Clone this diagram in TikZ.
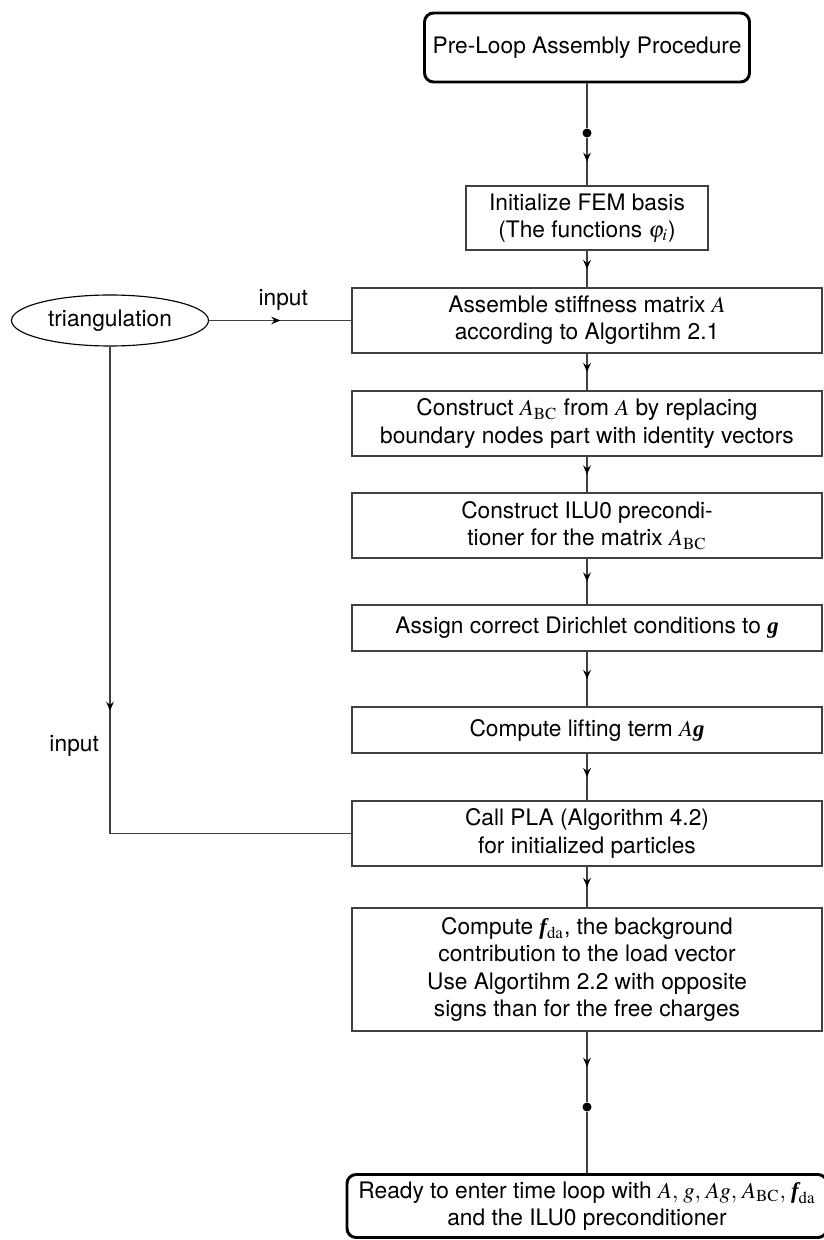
\documentclass[tikz,border=0pt]{standalone}
\usepackage{mathptmx}
\usepackage{amsmath}
\usepackage[no-math]{fontspec}
\setmainfont{TeX Gyre Heros}
\newfontfamily\tms{Liberation Serif}
\usetikzlibrary{arrows.meta,decorations.markings,shapes.geometric}
\newcommand{\bvec}[1]{\text{\tms\bfseries\itshape #1}}
\def\pxu{0.44pt}
\tikzset{
  every node/.style={font=\normalsize},
  stepbox/.style={draw=black!75, line width=0.5pt, inner sep=0pt, align=center,
    minimum width=470*\pxu},
  endbox/.style={draw=black, line width=1.3pt, rounded corners=4pt, inner sep=0pt,
    align=center},
  flow/.style={draw=black!75, line width=0.5pt},
  midarrow/.style={flow, postaction={decorate, decoration={markings,
    mark=at position 0.5 with {\arrow[black]{Stealth[length=4pt,width=3.4pt,inset=1.4pt]}}}}},
  dotnode/.style={circle, fill=black, inner sep=0pt, minimum size=9*\pxu},
}
\begin{document}
\begin{tikzpicture}[x=\pxu, y=-\pxu]
\useasboundingbox (0,0) rectangle (823,1240);

% start and end of the procedure
\node[endbox, minimum width=325*\pxu, minimum height=69*\pxu] (start) at (587,47.5)
  {Pre-Loop Assembly Procedure};
\node[dotnode] (d1) at (587,133) {};

% assembly steps
\node[draw=black!75, line width=0.5pt, inner sep=0pt, align=center,
  minimum width=242*\pxu, minimum height=64*\pxu] (init) at (587,218)
  {Initialize FEM basis\\(The functions $\varphi_i$)};
\node[stepbox, minimum height=65*\pxu] (asm) at (587,320.5)
  {Assemble stiffness matrix $A$\\according to Algortihm 2.1};
\node[stepbox, minimum height=65*\pxu] (abc) at (587,423.5)
  {Construct $A_{\mathrm{BC}}$ from $A$ by replacing\\boundary nodes part with identity vectors};
\node[stepbox, minimum height=65*\pxu] (ilu) at (587,525.5)
  {Construct ILU0 precondi-\\tioner for the matrix $A_{\mathrm{BC}}$};
\node[stepbox, minimum height=46*\pxu] (dir) at (587,628)
  {Assign correct Dirichlet conditions to \bvec{g}};
\node[stepbox, minimum height=46*\pxu] (lift) at (587,730)
  {Compute lifting term $A$\bvec{g}};
\node[stepbox, minimum height=65*\pxu] (pla) at (587,833.5)
  {Call PLA (Algorithm 4.2)\\for initialized particles};
\node[stepbox, minimum height=123*\pxu] (fda) at (587,969.5)
  {Compute \bvec{f}$_{\mathrm{da}}$, the background\\contribution to the load vector\\Use Algortihm 2.2 with opposite\\signs than for the free charges};
\node[dotnode] (d2) at (587,1107) {};
\node[endbox, minimum width=480*\pxu, minimum height=63*\pxu] (ready) at (587,1206)
  {Ready to enter time loop with $A,\, g,\, Ag,\, A_{\mathrm{BC}},\, \text{\bvec{f}}_{\mathrm{da}}$\\and the ILU0 preconditioner};

% mesh input
\node[draw=black, line width=0.5pt, ellipse, inner sep=0pt,
  minimum width=197*\pxu, minimum height=51*\pxu] (tri) at (110,320.5) {triangulation};

% connectors
\draw[flow] (start) -- (d1);
\draw[midarrow] (d1) -- (init);
\draw[midarrow] (init) -- (asm);
\draw[midarrow] (asm) -- (abc);
\draw[midarrow] (abc) -- (ilu);
\draw[midarrow] (ilu) -- (dir);
\draw[midarrow] (dir) -- (lift);
\draw[midarrow] (lift) -- (pla);
\draw[midarrow] (pla) -- (fda);
\draw[midarrow] (fda) -- (d2);
\draw[flow] (d2) -- (ready);
\draw[midarrow] (tri) -- node[above=2*\pxu, xshift=3*\pxu] {input} (asm);
\draw[midarrow] (tri) |- node[pos=0.41, left=3*\pxu] {input} (pla);
\end{tikzpicture}
\end{document}
